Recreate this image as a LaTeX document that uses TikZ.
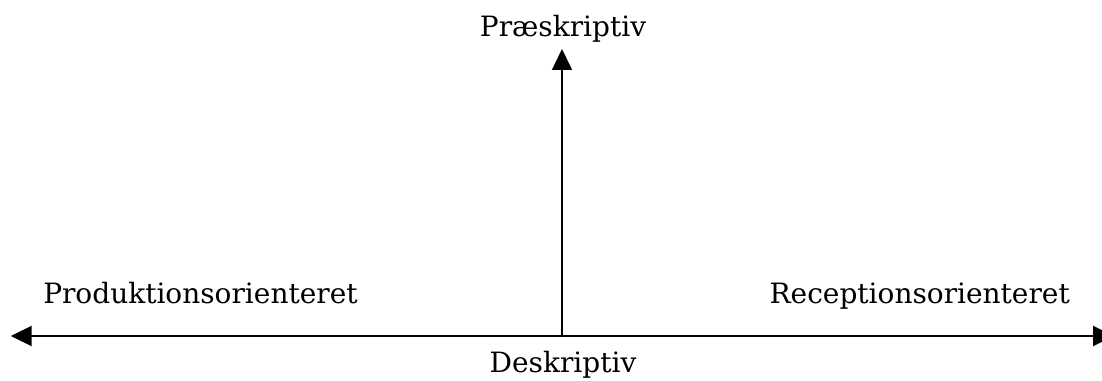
\documentclass[tikz,border=0pt]{standalone}
\usepackage{fontspec}
\setmainfont{DejaVu Serif}
\usetikzlibrary{arrows.meta, positioning}

\begin{document}
\begin{tikzpicture}[
    x=0.75pt, y=-0.75pt,
    axis/.style={line width=1.5pt, {Triangle[length=15.75pt, width=15pt]}-{Triangle[length=15.75pt, width=15pt]}},
    uparrow/.style={line width=1.2pt, -{Triangle[length=15.75pt, width=15pt]}},
    axislabel/.style={font=\fontsize{21pt}{25pt}\selectfont, inner sep=0pt, anchor=base}
]
\useasboundingbox (0,0) rectangle (1102,381);
% axis ends
\coordinate (lend) at (10.7,336);
\coordinate (rend) at (1114,336);
\coordinate (origin) at (562,336);
\coordinate (top) at (562,49);
\draw[axis] (lend) -- (rend);
\draw[uparrow] (origin) -- (top);
% labels
\node[axislabel] (praeskriptiv) at (563,37) {Præskriptiv};
\node[axislabel] (deskriptiv) at (563,372) {Deskriptiv};
\node[axislabel, anchor=base west] (produktion) at (43,303) {Produktionsorienteret};
\node[axislabel, anchor=base east] (reception) at (1070,303) {Receptionsorienteret};
\end{tikzpicture}
\end{document}
